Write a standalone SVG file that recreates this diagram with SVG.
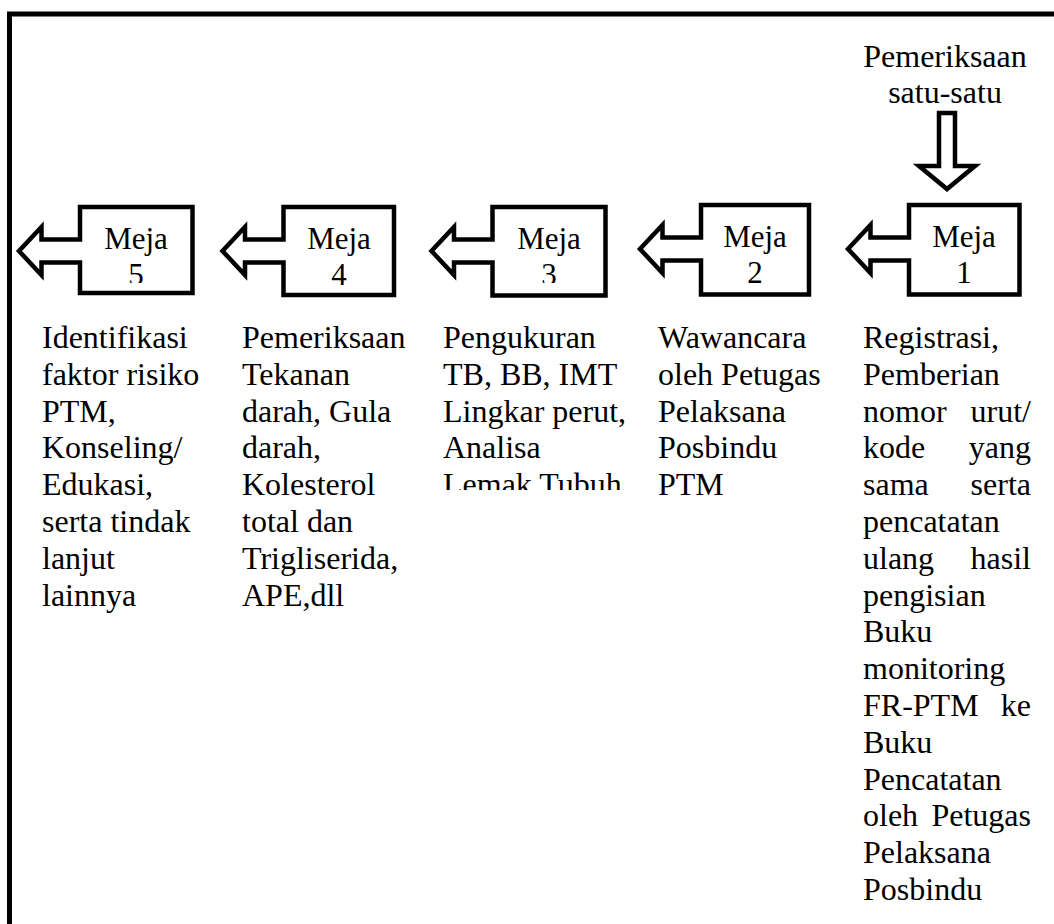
<svg xmlns="http://www.w3.org/2000/svg" width="1054" height="924" viewBox="0 0 1054 924">
<style>
  .shape { fill: #ffffff; stroke: #000000; stroke-width: 4.5; stroke-linejoin: miter; stroke-miterlimit: 10; }
  .frame { fill: none; stroke: #000000; stroke-width: 5; }
  text { font-family: "Liberation Serif", "Times New Roman", serif; font-size: 32px; fill: #000000; }
  .m { font-size: 31px; }
  .c { text-anchor: middle; }
  .r { text-anchor: end; }
</style>
<defs>
  <clipPath id="clip5"><rect x="80" y="207" width="113" height="76"/></clipPath>
  <clipPath id="clip3"><rect x="492" y="207" width="114" height="76"/></clipPath>
  <clipPath id="clipT3"><rect x="430" y="300" width="210" height="190"/></clipPath>
</defs>
<rect x="0" y="0" width="1054" height="924" fill="#ffffff"/>
<path class="frame" d="M9.5,930 V14 H1060"/>

<g id="header">
  <text class="c" x="945" y="67">Pemeriksaan</text>
  <text class="c" x="945" y="103">satu-satu</text>
</g>

<g id="connectors">
  <path class="shape" d="M939,113 H955 V166 H975 L947,189 L919,166 H939 Z"/>
</g>

<g id="meja1">
  <path class="shape" d="M909,205 H1019.5 V294.5 H909 V260.5 H870.5 V273 L848,249 L870.5,225 V237.5 H909 Z"/>
  <text class="c m" x="964" y="247">Meja</text>
  <text class="c m" x="964" y="283">1</text>
</g>
<g id="meja2">
  <path class="shape" d="M701,205 H809 V294.5 H701 V260.5 H662.5 V273 L640,249 L662.5,225 V237.5 H701 Z"/>
  <text class="c m" x="755" y="247">Meja</text>
  <text class="c m" x="755" y="283">2</text>
</g>
<g id="meja3">
  <path class="shape" d="M492.5,207 H605.5 V295.5 H492.5 V262.5 H454 V275 L431.5,251 L454,227 V239.5 H492.5 Z"/>
  <g clip-path="url(#clip3)">
    <text class="c m" x="549" y="249">Meja</text>
    <text class="c m" x="549" y="285">3</text>
  </g>
</g>
<g id="meja4">
  <path class="shape" d="M283.5,207 H394 V295 H283.5 V262.5 H245 V275 L222.5,251 L245,227 V239.5 H283.5 Z"/>
  <text class="c m" x="339" y="249">Meja</text>
  <text class="c m" x="339" y="285">4</text>
</g>
<g id="meja5">
  <path class="shape" d="M80,207 H192.5 V293 H80 V262.5 H41.5 V275 L19,251 L41.5,227 V239.5 H80 Z"/>
  <g clip-path="url(#clip5)">
    <text class="c m" x="136" y="249">Meja</text>
    <text class="c m" x="136" y="285">5</text>
  </g>
</g>

<g id="desc5">
  <text x="42" y="348">Identifikasi</text>
  <text x="42" y="384.8">faktor risiko</text>
  <text x="42" y="421.6">PTM,</text>
  <text x="42" y="458.4">Konseling/</text>
  <text x="42" y="495.2">Edukasi,</text>
  <text x="42" y="532">serta tindak</text>
  <text x="42" y="568.8">lanjut</text>
  <text x="42" y="605.6">lainnya</text>
</g>
<g id="desc4">
  <text x="242" y="348">Pemeriksaan</text>
  <text x="242" y="384.8">Tekanan</text>
  <text x="242" y="421.6">darah, Gula</text>
  <text x="242" y="458.4">darah,</text>
  <text x="242" y="495.2">Kolesterol</text>
  <text x="242" y="532">total dan</text>
  <text x="242" y="568.8">Trigliserida,</text>
  <text x="242" y="605.6">APE,dll</text>
</g>
<g id="desc3" clip-path="url(#clipT3)">
  <text x="443" y="348">Pengukuran</text>
  <text x="443" y="384.8">TB, BB, IMT</text>
  <text x="443" y="421.6">Lingkar perut,</text>
  <text x="443" y="458.4">Analisa</text>
  <text x="443" y="495.2">Lemak Tubuh</text>
</g>
<g id="desc2">
  <text x="658" y="348">Wawancara</text>
  <text x="658" y="384.8">oleh Petugas</text>
  <text x="658" y="421.6">Pelaksana</text>
  <text x="658" y="458.4">Posbindu</text>
  <text x="658" y="495.2">PTM</text>
</g>
<g id="desc1">
  <text x="863" y="348">Registrasi,</text>
  <text x="863" y="384.8">Pemberian</text>
  <text x="863" y="421.6">nomor</text><text class="r" x="1031" y="421.6">urut/</text>
  <text x="863" y="458.4">kode</text><text class="r" x="1031" y="458.4">yang</text>
  <text x="863" y="495.2">sama</text><text class="r" x="1031" y="495.2">serta</text>
  <text x="863" y="532">pencatatan</text>
  <text x="863" y="568.8">ulang</text><text class="r" x="1031" y="568.8">hasil</text>
  <text x="863" y="605.6">pengisian</text>
  <text x="863" y="642.4">Buku</text>
  <text x="863" y="679.2">monitoring</text>
  <text x="863" y="716">FR-PTM</text><text class="r" x="1031" y="716">ke</text>
  <text x="863" y="752.8">Buku</text>
  <text x="863" y="789.6">Pencatatan</text>
  <text x="863" y="826.4">oleh</text><text class="r" x="1031" y="826.4">Petugas</text>
  <text x="863" y="863.2">Pelaksana</text>
  <text x="863" y="900">Posbindu</text>
</g>
</svg>
